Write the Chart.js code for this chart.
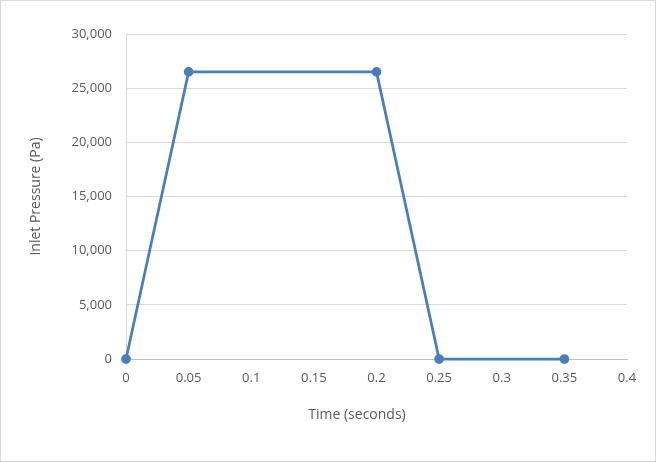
<!DOCTYPE html>
<html><head><meta charset="utf-8">
<script src="https://cdn.jsdelivr.net/npm/chart.js@4/dist/chart.umd.min.js"></script>
<style>html,body{margin:0;padding:0;background:#fff}#wrap{width:656px;height:462px;position:relative}</style>
</head><body><div id="wrap"><canvas id="c" width="656" height="462"></canvas></div>
<script>
const timeSeconds = [0, 0.05, 0.2, 0.25, 0.35];
const inletPressure = [0, 26500, 26500, 0, 0];
const xTitle = 'Time (seconds)';
const yTitle = 'Inlet Pressure (Pa)';

const points = timeSeconds.map((t, i) => ({x: t, y: inletPressure[i]}));
const FONT = "'Open Sans', 'Liberation Sans', sans-serif";
const TXT = '#595959';

const extrasPlugin = {
  id: 'extras',
  afterDraw(chart) {
    const ctx = chart.ctx;
    ctx.save();
    ctx.strokeStyle = '#d9d9d9';
    ctx.lineWidth = 1;
    ctx.strokeRect(0.5, 0.5, chart.width - 1, chart.height - 1);
    ctx.fillStyle = TXT;
    ctx.font = "14px " + FONT;
    ctx.textAlign = 'center';
    ctx.textBaseline = 'middle';
    ctx.fillText(xTitle, 357, 415);
    ctx.restore();
  }
};

new Chart(document.getElementById('c'), {
  type: 'scatter',
  data: { datasets: [{
    data: points, showLine: true, clip: false,
    borderColor: '#4A7EBB', backgroundColor: '#4A7EBB',
    borderWidth: 2.75, pointRadius: 3.5, pointHoverRadius: 3.5, tension: 0
  }]},
  options: {
    responsive: false, animation: false,
    layout: { padding: { left: 0, right: 29, top: 34, bottom: 35 } },
    plugins: { legend: { display: false }, tooltip: { enabled: false } },
    scales: {
      x: {
        type: 'linear', min: 0, max: 0.4,
        ticks: { stepSize: 0.05, color: TXT, font: { family: FONT, size: 13 }, padding: 11,
          callback: v => String(Number(v.toFixed(2))) },
        grid: { display: false, drawTicks: false },
        border: { display: true, color: '#bfbfbf', width: 1 },
        title: { display: false },
        afterFit(s) { s.height = 68; }
      },
      y: {
        min: 0, max: 30000,
        ticks: { stepSize: 5000, color: TXT, font: { family: FONT, size: 13 }, padding: 14,
          callback: v => v.toLocaleString('en-US') },
        grid: { color: '#d9d9d9', drawTicks: false },
        border: { display: true, color: '#d9d9d9', width: 1 },
        title: { display: true, text: yTitle, color: TXT, font: { family: FONT, size: 14 }, padding: { top: 28, bottom: 0 } },
        afterFit(s) { s.width = 126; }
      }
    }
  },
  plugins: [extrasPlugin]
});
</script></body></html>
